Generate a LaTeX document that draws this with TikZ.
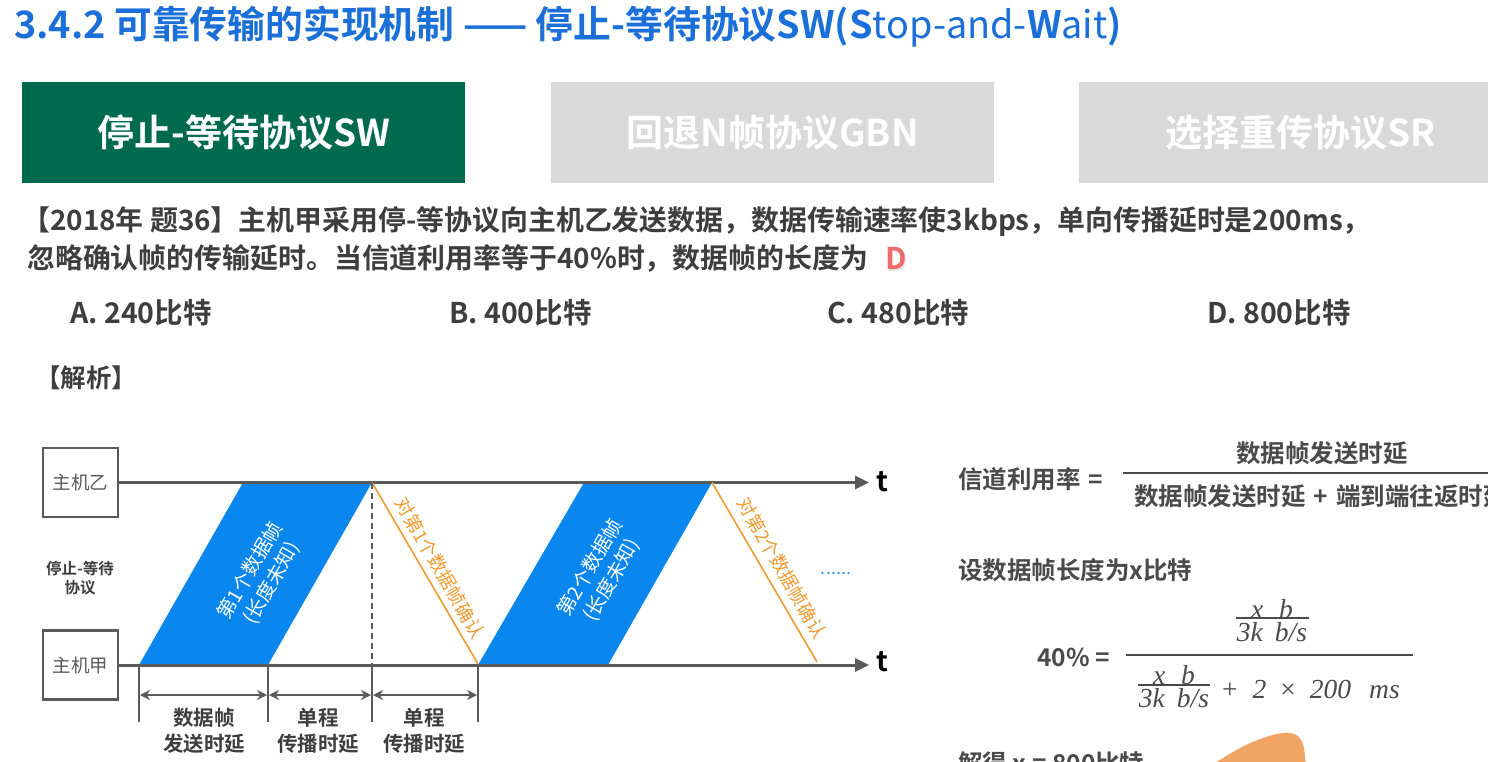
\documentclass[tikz,border=0pt]{standalone}
\usepackage{fontspec}
\setmainfont{Noto Sans CJK SC}[BoldFont={* Bold}]
\newfontfamily\eqserif{Liberation Serif}
\usetikzlibrary{arrows.meta}
\newcommand\fsz[1]{\fontsize{#1}{1.25\dimexpr #1pt\relax}\selectfont}
\definecolor{titleblue}{HTML}{1B6FD8}
\definecolor{tabgreen}{HTML}{006A4E}
\definecolor{tabgrey}{HTML}{D9D9D9}
\definecolor{qgrey}{HTML}{3E3E3E}
\definecolor{eqgrey}{HTML}{4A4A4A}
\definecolor{linegrey}{HTML}{5A5A5A}
\definecolor{framefill}{HTML}{0A86EF}
\definecolor{ackorange}{HTML}{F39A2E}
\definecolor{dotblue}{HTML}{2E9BE6}
\definecolor{answerred}{HTML}{F06A6A}
\definecolor{handskin}{HTML}{F2A465}
\begin{document}
\begin{tikzpicture}[x=1pt,y=-1pt,
  tabbox/.style={anchor=north west, minimum width=443pt, minimum height=101pt,
    inner sep=0pt, font=\fsz{37}\bfseries, text=white},
  qtext/.style={anchor=west, inner sep=0pt, text=qgrey, font=\fsz{27.9}\bfseries},
  opttext/.style={anchor=west, inner sep=0pt, text=qgrey, font=\fsz{28.5}\bfseries},
  hostbox/.style={draw=linegrey, line width=2.5pt, minimum width=75pt,
    minimum height=69pt, inner sep=0pt, text=linegrey, font=\fsz{18.5}},
  timeline/.style={draw=linegrey, line width=3pt,
    -{Triangle[length=14pt,width=13pt]}},
  framefill/.style={fill=framefill},
  frametext/.style={text=white, font=\fsz{19.5}, align=center, rotate=60, inner sep=0pt},
  ackline/.style={draw=ackorange, line width=1.6pt},
  acktext/.style={text=ackorange, font=\fsz{18.5}, rotate=-60, inner sep=0pt},
  tick/.style={draw=linegrey, line width=1.6pt},
  dimarrow/.style={draw=linegrey, line width=2pt,
    {Stealth[length=10pt,width=10pt]}-{Stealth[length=10pt,width=10pt]}},
  dimtext/.style={text=qgrey, font=\fsz{20.5}\bfseries, align=center, inner sep=0pt},
  eqtext/.style={anchor=west, inner sep=0pt, text=eqgrey, font=\fsz{24.5}\bfseries},
  mathtxt/.style={inner sep=0pt, text=eqgrey, font=\fsz{27.5}\eqserif\itshape},
  fracbar/.style={draw=eqgrey, line width=2.6pt},
  smallbar/.style={draw=eqgrey, line width=1.2pt},
  tlabel/.style={inner sep=0pt, text=black, font=\fsz{28}\bfseries}
]
\useasboundingbox (0,0) rectangle (1488,762);
\clip (0,0) rectangle (1488,762);
\fill[white] (0,0) rectangle (1488,762);

% heading
\node[anchor=west, inner sep=0pt, text=titleblue, font=\fsz{37.8}\bfseries] (title) at (14,27)
  {3.4.2 可靠传输的实现机制 —— 停止-等待协议SW(S{\mdseries top-and-}W{\mdseries ait})};

% protocol tabs
\node[tabbox, fill=tabgreen] (tabSW) at (22,82) {停止-等待协议SW};
\node[tabbox, fill=tabgrey] (tabGBN) at (551,82) {回退N帧协议GBN};
\node[tabbox, fill=tabgrey] (tabSR) at (1079,82) {选择重传协议SR};

% exam question
\node[qtext] (q1) at (22,222)
  {【2018年 题36】主机甲采用停-等协议向主机乙发送数据，数据传输速率使3kbps，单向传播延时是200ms，};
\node[qtext] (q2) at (27,258)
  {忽略确认帧的传输延时。当信道利用率等于40\%时，数据帧的长度为};
\node[inner sep=0pt, text=white!80!gray, font=\fsz{30}\bfseries] at (897.5,260) {D};
\node[inner sep=0pt, text=answerred, font=\fsz{30}\bfseries] (ans) at (896,258.5) {D};

\node[opttext] (optA) at (70,313) {A. 240比特};
\node[opttext] (optB) at (449,313) {B. 400比特};
\node[opttext] (optC) at (827,313) {C. 480比特};
\node[opttext] (optD) at (1207,313) {D. 800比特};

\node[anchor=west, inner sep=0pt, text=qgrey, font=\fsz{25.5}\bfseries] (jx) at (35,378) {【解析】};

% time diagram: hosts and time axes
\node[hostbox] (hostB) at (80.5,482.5) {主机乙};
\node[hostbox] (hostA) at (80.5,665) {主机甲};
\node[inner sep=0pt, text=qgrey, font=\fsz{15.5}\bfseries, align=center] (proto) at (80,578)
  {停止-等待\\协议};

\coordinate (endB) at (869,482.5);
\coordinate (endA) at (869,665);

% data frames
\coordinate (f1a) at (139,665);
\coordinate (f1b) at (268,665);
\coordinate (f1c) at (372,482.5);
\coordinate (f1d) at (243,482.5);
\fill[framefill] (f1a) -- (f1b) -- (f1c) -- (f1d) -- cycle;
\coordinate (f2a) at (478,665);
\coordinate (f2b) at (608,665);
\coordinate (f2c) at (712,482.5);
\coordinate (f2d) at (584,482.5);
\fill[framefill] (f2a) -- (f2b) -- (f2c) -- (f2d) -- cycle;

\draw[timeline] (hostB.east) -- (endB);
\draw[timeline] (hostA.east) -- (endA);
\node[tlabel] (tB) at (882,482) {t};
\node[tlabel] (tA) at (882,662) {t};

\node[frametext] (ft1) at (261,577) {第1个数据帧\\(长度未知)};
\node[frametext] (ft2) at (601,574) {第2个数据帧\\(长度未知)};

% acknowledgements
\coordinate (ack1end) at (478,664);
\coordinate (ack2end) at (817,662);
\draw[ackline] (f1c) -- (ack1end);
\draw[ackline] (f2c) -- (ack2end);
\node[acktext] (at1) at (440,568) {对第1个数据帧确认};
\node[acktext] (at2) at (782,568) {对第2个数据帧确认};

\node[inner sep=0pt, text=dotblue, font=\fsz{18}] (dots) at (836,573) {......};

% time intervals
\coordinate (tk1) at (139,722);
\coordinate (tk2) at (268,722);
\coordinate (tk3) at (372,722);
\coordinate (tk4) at (478,722);
\draw[linegrey, line width=1.6pt, dashed, dash pattern=on 6pt off 4pt] (f1c) -- (372,665);
\draw[tick] (f1a) -- (tk1);
\draw[tick] (f1b) -- (tk2);
\draw[tick] (372,665) -- (tk3);
\draw[tick] (f2a) -- (tk4);
\draw[dimarrow] (140,695) -- (267,695);
\draw[dimarrow] (269,695) -- (371,695);
\draw[dimarrow] (373,695) -- (477,695);
\node[dimtext] (d1) at (204,731) {数据帧\\发送时延};
\node[dimtext] (d2) at (318,731) {单程\\传播时延};
\node[dimtext] (d3) at (424,731) {单程\\传播时延};

% channel utilisation
\node[eqtext] (util) at (958,479) {信道利用率\hspace{8pt}=};
\draw[fracbar] (1123,473) -- (1500,473);
\node[inner sep=0pt, text=eqgrey, font=\fsz{24.5}\bfseries] (unum) at (1322,453) {数据帧发送时延};
\node[eqtext] (uden) at (1134,496) {数据帧发送时延\hspace{8pt}+\hspace{8pt}端到端往返时延};

\node[eqtext] (let) at (958,570) {设数据帧长度为x比特};

\node[eqtext] (pct) at (1037,657) {40\%\hspace{6pt}=};
\draw[fracbar] (1126,655) -- (1413,655);
\node[mathtxt] (n1) at (1272,609) {x\hspace{16pt}b};
\draw[smallbar] (1236,618) -- (1309,618);
\node[mathtxt] (n2) at (1272,632) {3k\hspace{12pt}b/s};
\node[mathtxt] (m1) at (1174,675) {x\hspace{16pt}b};
\draw[smallbar] (1138,685) -- (1210,685);
\node[mathtxt] (m2) at (1174,698) {3k\hspace{12pt}b/s};
\node[mathtxt, anchor=west] (rest) at (1222,689)
  {{\upshape +}\hspace{15pt}2\hspace{14pt}{\upshape ×}\hspace{14pt}200\hspace{18pt}ms};

\node[eqtext] (sol) at (958,763) {解得 x = 800比特};

% pointer hand
\fill[handskin] (1212,765) .. controls (1235,750) and (1255,738) .. (1282,733)
  .. controls (1296,731) and (1302,738) .. (1304,748) -- (1306,765) -- cycle;
\end{tikzpicture}
\end{document}
